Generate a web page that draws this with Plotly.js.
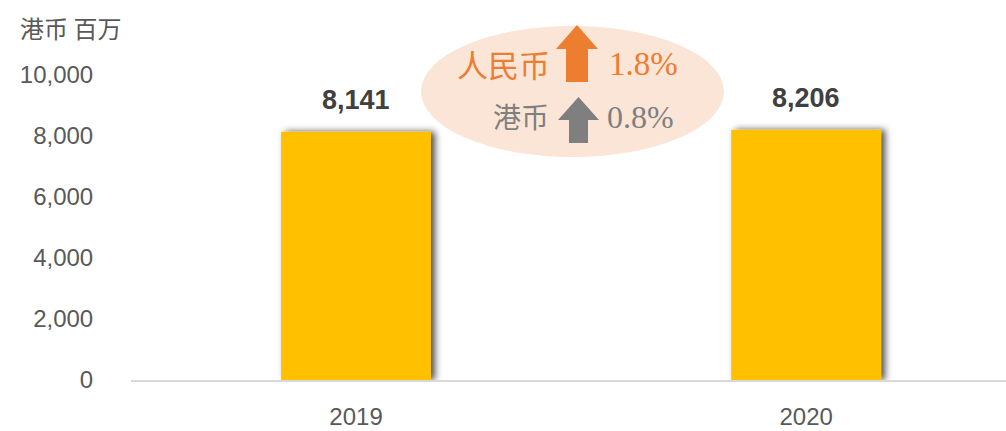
<!DOCTYPE html>
<html>
<head>
<meta charset="utf-8">
<script src="https://cdn.plot.ly/plotly-3.0.1.min.js"></script>
<style>html,body{margin:0;padding:0;background:#fff;}#chart{width:1006px;height:431px;}</style>
</head>
<body>
<div id="chart"></div>
<script>
const categories = ["2019", "2020"];
const values = [8141, 8206];
const valueLabels = ["8,141", "8,206"];
const yTickVals = [0, 2000, 4000, 6000, 8000, 10000];
const yTickText = ["0", "2,000", "4,000", "6,000", "8,000", "10,000"];
const unitLabel = "港币 百万";
const rmbLabel = "人民币";
const rmbChange = "1.8%";
const hkdLabel = "港币";
const hkdChange = "0.8%";

const L = 131, R = 1006, T = 75, B = 380;
const px = x => (x - L) / (R - L);
const py = y => (B - y) / (B - T);
const sans = '"Liberation Sans", Arial, sans-serif';
const serif = '"Liberation Serif", "DejaVu Serif", serif';
const cjk = '"Noto Sans CJK SC", sans-serif';

function arrowPath(cx, top, headY, bottom, headHalf, shaftHalf) {
  const pts = [[cx, top], [cx - headHalf, headY], [cx - shaftHalf, headY], [cx - shaftHalf, bottom],
               [cx + shaftHalf, bottom], [cx + shaftHalf, headY], [cx + headHalf, headY]];
  return 'M' + pts.map(p => px(p[0]).toFixed(5) + ',' + py(p[1]).toFixed(5)).join(' L') + ' Z';
}

const trace = {
  type: 'bar',
  x: categories,
  y: values,
  width: 0.333,
  marker: {color: '#FFC000'},
  hoverinfo: 'none'
};

const annotations = categories.map((c, i) => ({
  x: i, y: values[i], xref: 'x', yref: 'y',
  text: '<b>' + valueLabels[i] + '</b>',
  showarrow: false, yanchor: 'bottom', yshift: 15,
  font: {family: sans, size: 27, color: '#404040'}
}));

annotations.push(
  {xref: 'paper', yref: 'paper', x: px(18), y: py(28), xanchor: 'left', yanchor: 'middle',
   text: unitLabel, showarrow: false, font: {family: cjk, size: 24, color: '#595959'}},
  {xref: 'paper', yref: 'paper', x: px(552), y: py(63), xanchor: 'right', yanchor: 'middle',
   text: rmbLabel, showarrow: false, font: {family: cjk, size: 31, color: '#ED7D31'}},
  {xref: 'paper', yref: 'paper', x: px(607), y: py(64), xanchor: 'left', yanchor: 'middle',
   text: rmbChange, showarrow: false, font: {family: serif, size: 33, color: '#ED7D31'}},
  {xref: 'paper', yref: 'paper', x: px(551), y: py(116), xanchor: 'right', yanchor: 'middle',
   text: hkdLabel, showarrow: false, font: {family: cjk, size: 28, color: '#7F7F7F'}},
  {xref: 'paper', yref: 'paper', x: px(605), y: py(117), xanchor: 'left', yanchor: 'middle',
   text: hkdChange, showarrow: false, font: {family: serif, size: 32, color: '#7F7F7F'}}
);

const shapes = [
  {type: 'circle', xref: 'paper', yref: 'paper', x0: px(421), x1: px(724), y0: py(157), y1: py(26),
   fillcolor: '#FBE5D6', line: {width: 0}, layer: 'above'},
  {type: 'path', xref: 'paper', yref: 'paper', path: arrowPath(577, 25, 49, 82, 21, 11),
   fillcolor: '#ED7D31', line: {width: 0}, layer: 'above'},
  {type: 'path', xref: 'paper', yref: 'paper', path: arrowPath(578.5, 97, 120, 143, 20.5, 9.5),
   fillcolor: '#7F7F7F', line: {width: 0}, layer: 'above'}
];

const layout = {
  width: 1006, height: 431,
  margin: {l: L, r: 1006 - R, t: T, b: 431 - B, pad: 0},
  paper_bgcolor: '#ffffff', plot_bgcolor: '#ffffff',
  showlegend: false,
  xaxis: {
    type: 'category', range: [-0.5, 1.444],
    showgrid: false, zeroline: false,
    showline: true, linecolor: '#D9D9D9', linewidth: 1.5,
    ticks: 'outside', ticklen: 15, tickcolor: 'rgba(0,0,0,0)',
    tickfont: {family: sans, size: 24, color: '#595959'}
  },
  yaxis: {
    range: [0, 10000], tickvals: yTickVals, ticktext: yTickText,
    showgrid: false, zeroline: false, showline: false,
    ticks: 'outside', ticklen: 32, tickcolor: 'rgba(0,0,0,0)',
    tickfont: {family: sans, size: 24, color: '#595959'}
  },
  annotations: annotations,
  shapes: shapes
};

Plotly.newPlot('chart', [trace], layout, {staticPlot: true}).then(gd => {
  const svg = gd.querySelector('svg.main-svg');
  const ns = 'http://www.w3.org/2000/svg';
  let defs = svg.querySelector('defs');
  if (!defs) { defs = document.createElementNS(ns, 'defs'); svg.insertBefore(defs, svg.firstChild); }
  const f = document.createElementNS(ns, 'filter');
  f.setAttribute('id', 'barShadow');
  f.setAttribute('x', '-20%'); f.setAttribute('y', '-20%');
  f.setAttribute('width', '140%'); f.setAttribute('height', '140%');
  const ds = document.createElementNS(ns, 'feDropShadow');
  ds.setAttribute('dx', '4'); ds.setAttribute('dy', '0');
  ds.setAttribute('stdDeviation', '3.5');
  ds.setAttribute('flood-color', '#000'); ds.setAttribute('flood-opacity', '0.7');
  f.appendChild(ds); defs.appendChild(f);
  gd.querySelectorAll('.bars .point path').forEach(p => p.setAttribute('filter', 'url(#barShadow)'));
});
</script>
</body>
</html>
